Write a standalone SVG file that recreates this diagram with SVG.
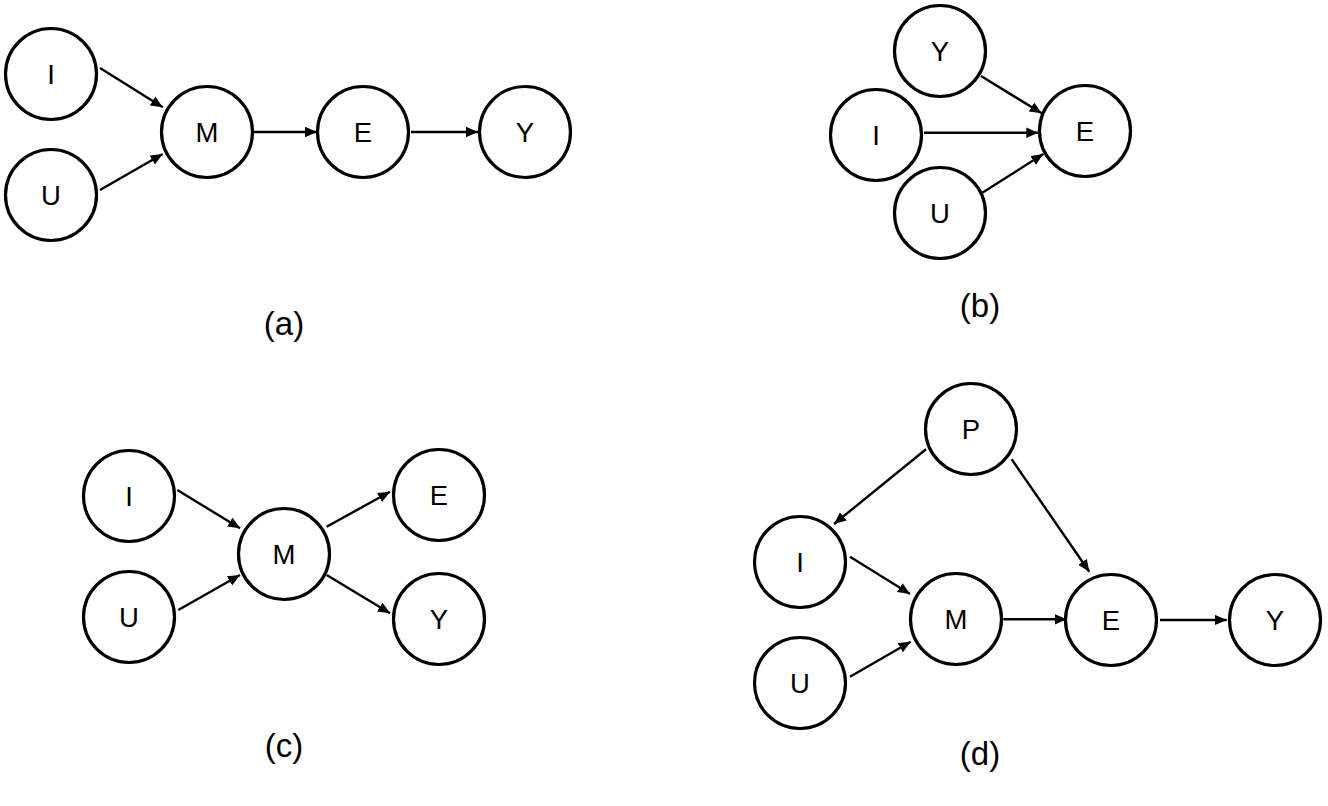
<svg xmlns="http://www.w3.org/2000/svg" width="1328" height="806" viewBox="0 0 1328 806">
<style>
.n circle{fill:#fff;stroke:#000;stroke-width:3.2}
.n text,.lbl{font-family:"Liberation Sans",Arial,sans-serif;text-anchor:middle;fill:#000}
.n text{font-size:27.5px}
.lbl{font-size:33px}
#edges line{stroke:#000;stroke-width:2.4;marker-end:url(#ah)}
</style>
<defs>
<marker id="ah" markerUnits="userSpaceOnUse" markerWidth="13" markerHeight="11" refX="12" refY="5.25" orient="auto" viewBox="0 0 13 10.5">
<path d="M0,0 L12,5.25 L0,10.5 z" fill="#000"/>
</marker>
</defs>
<rect width="1328" height="806" fill="#fff"/>
<g id="edges">
<line x1="100" y1="68" x2="162.7" y2="107.3"/>
<line x1="100" y1="190" x2="162.7" y2="154"/>
<line x1="253" y1="132" x2="317" y2="132"/>
<line x1="411" y1="132" x2="478" y2="132"/>
<line x1="981" y1="76" x2="1041.7" y2="113.3"/>
<line x1="924" y1="132.7" x2="1038.3" y2="132.7"/>
<line x1="982.3" y1="192.7" x2="1043.3" y2="154"/>
<line x1="177.3" y1="490" x2="240" y2="528.3"/>
<line x1="178.3" y1="610" x2="240" y2="575"/>
<line x1="326.7" y1="526.7" x2="390" y2="491.7"/>
<line x1="326.7" y1="575" x2="390" y2="613.3"/>
<line x1="926" y1="449.3" x2="834" y2="524"/>
<line x1="1011.7" y1="459.3" x2="1089.3" y2="571.7"/>
<line x1="850" y1="556.7" x2="910" y2="594"/>
<line x1="850" y1="676.7" x2="910.7" y2="641.7"/>
<line x1="1003.3" y1="619.3" x2="1066.7" y2="619.3"/>
<line x1="1160" y1="620" x2="1226.7" y2="620"/>
</g>
<g id="a-I" class="n"><circle cx="51" cy="74" r="45.5"/><text x="51" y="84">I</text></g>
<g id="a-U" class="n"><circle cx="51" cy="195" r="45.5"/><text x="51" y="205">U</text></g>
<g id="a-M" class="n"><circle cx="207" cy="132" r="45.5"/><text x="207" y="142">M</text></g>
<g id="a-E" class="n"><circle cx="363" cy="132" r="45.5"/><text x="363" y="142">E</text></g>
<g id="a-Y" class="n"><circle cx="525" cy="132" r="45.5"/><text x="525" y="142">Y</text></g>
<text class="lbl" x="284" y="335">(a)</text>

<g id="b-Y" class="n"><circle cx="940" cy="51" r="45.5"/><text x="940" y="61">Y</text></g>
<g id="b-I" class="n"><circle cx="876" cy="135" r="45.5"/><text x="876" y="145">I</text></g>
<g id="b-E" class="n"><circle cx="1085" cy="131" r="45.5"/><text x="1085" y="141">E</text></g>
<g id="b-U" class="n"><circle cx="940" cy="213" r="45.5"/><text x="940" y="223">U</text></g>
<text class="lbl" x="980" y="317">(b)</text>

<g id="c-I" class="n"><circle cx="129" cy="496" r="45.5"/><text x="129" y="506">I</text></g>
<g id="c-U" class="n"><circle cx="129" cy="617" r="45.5"/><text x="129" y="627">U</text></g>
<g id="c-M" class="n"><circle cx="284" cy="554" r="45.5"/><text x="284" y="564">M</text></g>
<g id="c-E" class="n"><circle cx="439" cy="495" r="45.5"/><text x="439" y="505">E</text></g>
<g id="c-Y" class="n"><circle cx="439" cy="619" r="45.5"/><text x="439" y="629">Y</text></g>
<text class="lbl" x="284" y="757">(c)</text>

<g id="d-P" class="n"><circle cx="971" cy="429" r="45.5"/><text x="971" y="439">P</text></g>
<g id="d-I" class="n"><circle cx="800" cy="562" r="45.5"/><text x="800" y="572">I</text></g>
<g id="d-M" class="n"><circle cx="956" cy="619" r="45.5"/><text x="956" y="629">M</text></g>
<g id="d-E" class="n"><circle cx="1111" cy="620" r="45.5"/><text x="1111" y="630">E</text></g>
<g id="d-Y" class="n"><circle cx="1275" cy="620" r="45.5"/><text x="1275" y="630">Y</text></g>
<g id="d-U" class="n"><circle cx="800" cy="683" r="45.5"/><text x="800" y="693">U</text></g>
<text class="lbl" x="980" y="765">(d)</text>
</svg>
